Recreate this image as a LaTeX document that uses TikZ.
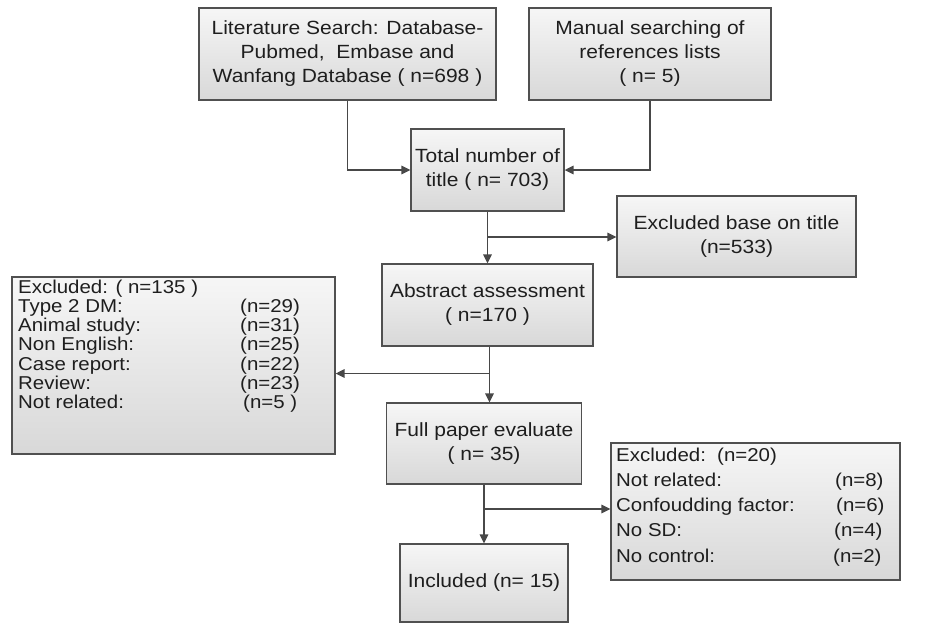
\documentclass[tikz,border=0pt]{standalone}
\usepackage{fontspec}
\setmainfont{Liberation Sans}[FakeStretch=1.1]
\usetikzlibrary{arrows.meta}
\definecolor{edgec}{HTML}{505050}
\definecolor{linec}{HTML}{484848}
\definecolor{txtc}{HTML}{1E1E1E}
\definecolor{boxtop}{HTML}{F6F6F6}
\definecolor{boxbot}{HTML}{D8D8D8}
\tikzset{
  box/.style={draw=edgec, line width=1.3pt, top color=boxtop, bottom color=boxbot,
    inner sep=0pt, align=center, text=txtc, font=\fontsize{19.1}{24}\selectfont},
  lbl/.style={inner sep=0pt, anchor=base west, text=txtc, font=\fontsize{18.6}{22}\selectfont},
  arr/.style={draw=linec, line width=1.6pt, -{Triangle[length=9pt,width=8.5pt]}},
  tshift/.style={text depth=0pt, yshift=-1.5pt},
}
\begin{document}
\begin{tikzpicture}[x=1pt,y=-1pt]
\useasboundingbox (0,0) rectangle (936,624);
% boxes
\node[box, minimum width=297pt, minimum height=92pt] (lit) at (347.5,54)
  {Literature Search: Database-\\Pubmed,\ \ Embase and\\Wanfang Database ( n=698 )};
\node[box, minimum width=242pt, minimum height=92pt] (man) at (650,54)
  {Manual searching of\\references lists\\( n= 5)};
\node[box, minimum width=153pt, minimum height=82pt] (tot) at (487.5,170)
  {Total number of\\title ( n= 703)};
\node[box, minimum width=239pt, minimum height=81pt] (exb) at (736.5,236.5)
  {Excluded base on title\\(n=533)};
\node[box, minimum width=211pt, minimum height=82pt] (abs) at (487.5,305)
  {Abstract assessment\\( n=170 )};
\node[box, minimum width=323pt, minimum height=177pt] (exa) at (173.5,365.5) {};
\node[box, minimum width=195pt, minimum height=81pt] (full) at (484,443.5)
  {Full paper evaluate\\( n= 35)};
\node[box, minimum width=168pt, minimum height=78pt] (inc) at (484,583)
  {Included (n= 15)};
\node[box, minimum width=289pt, minimum height=137pt] (exc) at (755.5,511.5) {};
% left excluded list
\node[lbl] (a0) at (18,293) {Excluded: ( n=135 )};
\node[lbl] (a1) at (18,312.3) {Type 2 DM:};
\node[lbl] (a2) at (18,331.6) {Animal study:};
\node[lbl] (a3) at (18,350.9) {Non English:};
\node[lbl] (a4) at (18,370.2) {Case report:};
\node[lbl] (a5) at (18,389.5) {Review:};
\node[lbl] (a6) at (18,408.8) {Not related:};
\node[lbl] (n1) at (240,312.3) {(n=29)};
\node[lbl] (n2) at (240,331.6) {(n=31)};
\node[lbl] (n3) at (240,350.9) {(n=25)};
\node[lbl] (n4) at (240,370.2) {(n=22)};
\node[lbl] (n5) at (240,389.5) {(n=23)};
\node[lbl] (n6) at (243,408.8) {(n=5 )};
% right excluded list
\node[lbl] (b0) at (616,461) {Excluded:};
\node[lbl] (m0) at (717,461) {(n=20)};
\node[lbl] (b1) at (616,486.3) {Not related:};
\node[lbl] (b2) at (616,511.5) {Confoudding factor:};
\node[lbl] (b3) at (616,536.8) {No SD:};
\node[lbl] (b4) at (616,562) {No control:};
\node[lbl] (m1) at (835,486.3) {(n=8)};
\node[lbl] (m2) at (836,511.5) {(n=6)};
\node[lbl] (m3) at (834,536.8) {(n=4)};
\node[lbl] (m4) at (833,562) {(n=2)};
% connectors
\draw[arr] (lit.south) |- (tot.west);
\draw[arr] (man.south) |- (tot.east);
\draw[arr] (tot.south) -- (abs.north);
\coordinate (br1) at (487.5,237);
\draw[arr] (br1) -- (br1 -| exb.west);
\draw[arr] ([xshift=2pt]abs.south) -- ([xshift=2pt]abs.south |- full.north);
\coordinate (br2) at (489.5,373.5);
\draw[arr] (br2) -- (br2 -| exa.east);
\draw[arr] (full.south) -- (inc.north);
\coordinate (br3) at (484,509);
\draw[arr] (br3) -- (br3 -| exc.west);
\end{tikzpicture}
\end{document}
